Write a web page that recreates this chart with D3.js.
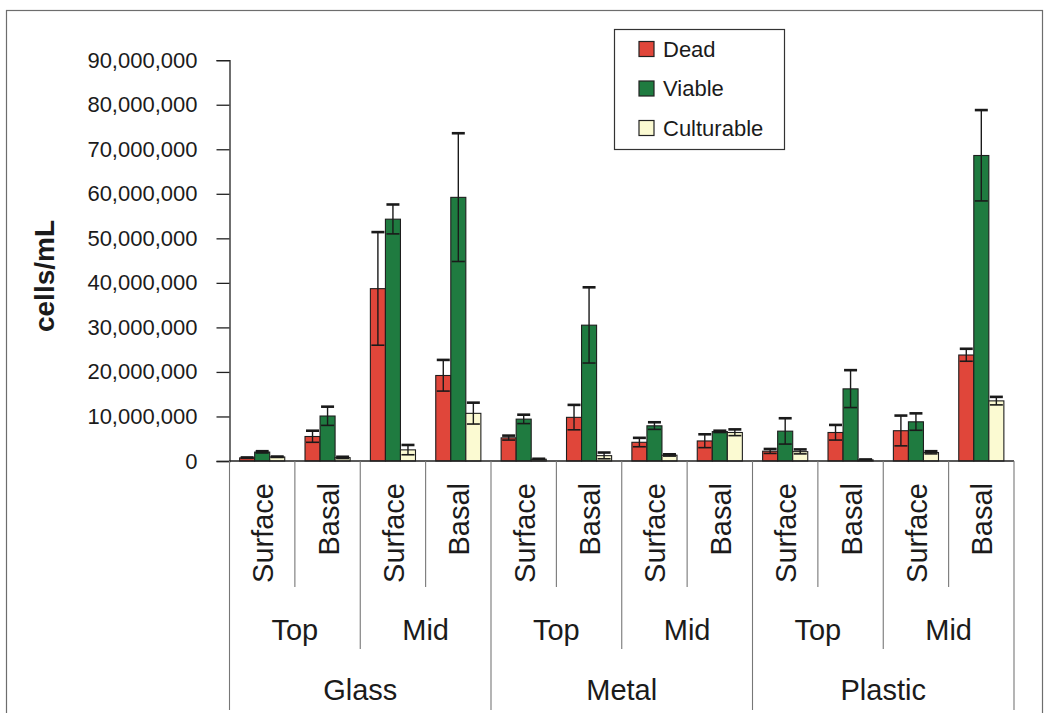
<!DOCTYPE html>
<html>
<head>
<meta charset="utf-8">
<script src="https://cdn.jsdelivr.net/npm/d3@7"></script>
<style>
  html, body { margin: 0; padding: 0; background: #fff; }
  svg { display: block; font-family: "Liberation Sans", Arial, Helvetica, sans-serif; }
</style>
</head>
<body>
<svg id="chart" width="1050" height="713"></svg>
<script>
// Hierarchical categories: material > position > layer
const materials = ["Glass", "Metal", "Plastic"];
const positions = ["Top", "Mid"];
const layers = ["Surface", "Basal"];
const seriesNames = ["Dead", "Viable", "Culturable"];
const seriesColors = ["#e0463a", "#1f7b40", "#fbfad2"];

// Mean counts (cells/mL), one per layer in order Glass-Top-Surface ... Plastic-Mid-Basal
const dead       = [0.7e6, 5.5e6, 38.7e6, 19.2e6, 5.2e6, 9.8e6, 4.2e6, 4.5e6, 2.2e6, 6.4e6, 6.8e6, 23.8e6];
const viable     = [2.0e6, 10.1e6, 54.3e6, 59.2e6, 9.4e6, 30.5e6, 7.9e6, 6.6e6, 6.7e6, 16.2e6, 8.8e6, 68.6e6];
const culturable = [0.9e6, 0.75e6, 2.5e6, 10.7e6, 0.4e6, 1.2e6, 1.3e6, 6.4e6, 2.1e6, 0.25e6, 1.9e6, 13.5e6];

// Standard deviations
const deadErr       = [0.1e6, 1.3e6, 12.7e6, 3.5e6, 0.5e6, 2.8e6, 1.0e6, 1.5e6, 0.5e6, 1.7e6, 3.4e6, 1.4e6];
const viableErr     = [0.2e6, 2.1e6, 3.3e6, 14.4e6, 1.0e6, 8.5e6, 0.8e6, 0.2e6, 2.9e6, 4.2e6, 1.9e6, 10.2e6];
const culturableErr = [0.1e6, 0.2e6, 1.1e6, 2.4e6, 0.1e6, 0.7e6, 0.2e6, 0.7e6, 0.5e6, 0.1e6, 0.3e6, 0.9e6];

const yTicks = [0, 10e6, 20e6, 30e6, 40e6, 50e6, 60e6, 70e6, 80e6, 90e6];

// Build the flat category list
const cats = [];
materials.forEach(m => positions.forEach(p => layers.forEach(l => cats.push({m, p, l}))));
const cols = [dead, viable, culturable];
const errs = [deadErr, viableErr, culturableErr];

const svg = d3.select("#chart");
const textColor = "#1b1b1b";

// Outer chart frame
svg.append("rect")
  .attr("x", 6.5).attr("y", 10.5).attr("width", 1036).attr("height", 740)
  .attr("fill", "none").attr("stroke", "#6d6d6d").attr("stroke-width", 1.2);

const plot = { left: 229.5, right: 1014, top: 60.2, bottom: 461 };

const x = d3.scaleBand().domain(d3.range(cats.length)).range([plot.left, plot.right]).padding(0);
const bw = x.bandwidth();
const xs = d3.scaleBand().domain(seriesNames).range([bw * 0.155, bw * 0.845]).padding(0);
const y = d3.scaleLinear().domain([0, 90e6]).range([plot.bottom, plot.top]);

// Y axis
const yAxis = svg.append("g")
  .attr("transform", `translate(${plot.left},0)`)
  .call(d3.axisLeft(y).tickValues(yTicks).tickFormat(d3.format(",")).tickSize(13).tickPadding(19));
yAxis.select(".domain").attr("stroke", "#222").attr("stroke-width", 1.3);
yAxis.selectAll(".tick line").attr("stroke", "#222").attr("stroke-width", 1.3);
yAxis.selectAll(".tick text")
  .attr("fill", textColor)
  .style("font-size", "22px")
  .style("font-family", "'Liberation Sans', Arial, sans-serif");

// Y axis title
svg.append("text")
  .attr("transform", "translate(44,276) rotate(-90)")
  .attr("text-anchor", "middle")
  .attr("dominant-baseline", "central")
  .attr("fill", textColor)
  .style("font-size", "28px")
  .style("font-weight", "bold")
  .text("cells/mL");

// Bars
const bars = svg.append("g");
cats.forEach((c, i) => {
  seriesNames.forEach((s, k) => {
    const v = cols[k][i];
    const bx = x(i) + xs(s);
    bars.append("rect")
      .attr("x", bx).attr("y", y(v))
      .attr("width", xs.bandwidth()).attr("height", y(0) - y(v))
      .attr("fill", seriesColors[k])
      .attr("stroke", "#1e1e1e").attr("stroke-width", 1.1);
  });
});

// Error bars
const eb = svg.append("g").attr("stroke", "#1a1a1a");
cats.forEach((c, i) => {
  seriesNames.forEach((s, k) => {
    const v = cols[k][i], e = errs[k][i];
    const cx = x(i) + xs(s) + xs.bandwidth() / 2;
    const hi = y(v + e), lo = y(Math.max(0, v - e));
    eb.append("line").attr("x1", cx).attr("x2", cx).attr("y1", hi).attr("y2", lo).attr("stroke-width", 1.4);
    eb.append("line").attr("x1", cx - 6.5).attr("x2", cx + 6.5).attr("y1", hi).attr("y2", hi).attr("stroke-width", 2.6);
    eb.append("line").attr("x1", cx - 6.5).attr("x2", cx + 6.5).attr("y1", lo).attr("y2", lo).attr("stroke-width", 1.6);
  });
});

// X axis baseline
svg.append("line")
  .attr("x1", plot.left).attr("x2", plot.right)
  .attr("y1", plot.bottom).attr("y2", plot.bottom)
  .attr("stroke", "#222").attr("stroke-width", 1.3);

// Category grid separators (three nested levels)
const level1Bottom = 587, level2Bottom = 649, level3Bottom = 710;
const sep = svg.append("g").attr("stroke", "#777").attr("stroke-width", 1.1);
d3.range(cats.length + 1).forEach(i => {
  const xx = i < cats.length ? x(i) : plot.right;
  const len = i % 4 === 0 ? level3Bottom : (i % 2 === 0 ? level2Bottom : level1Bottom);
  sep.append("line").attr("x1", xx).attr("x2", xx).attr("y1", plot.bottom).attr("y2", len);
});

// Layer labels (rotated)
const lbl = svg.append("g").attr("fill", textColor).style("font-size", "29px");
cats.forEach((c, i) => {
  const cx = x(i) + bw / 2;
  lbl.append("text")
    .attr("transform", `translate(${cx + 1},483) rotate(-90)`)
    .attr("text-anchor", "end")
    .attr("dominant-baseline", "central")
    .text(c.l);
});

// Position labels
d3.range(materials.length * positions.length).forEach(j => {
  const cx = x(j * 2) + bw;
  lbl.append("text")
    .attr("x", cx).attr("y", 640)
    .attr("text-anchor", "middle")
    .text(positions[j % 2]);
});

// Material labels
materials.forEach((m, j) => {
  const cx = x(j * 4) + bw * 2;
  lbl.append("text")
    .attr("x", cx).attr("y", 700)
    .attr("text-anchor", "middle")
    .text(m);
});

// Legend
const leg = svg.append("g").attr("transform", "translate(614,29)");
leg.append("rect")
  .attr("x", 0.5).attr("y", 0.5).attr("width", 170).attr("height", 120)
  .attr("fill", "#fff").attr("stroke", "#333").attr("stroke-width", 1.2);
seriesNames.forEach((s, k) => {
  const cy = 20 + k * 39.5;
  leg.append("rect")
    .attr("x", 25).attr("y", cy - 7.5).attr("width", 15).attr("height", 15)
    .attr("fill", seriesColors[k]).attr("stroke", "#222").attr("stroke-width", 1.2);
  leg.append("text")
    .attr("x", 49).attr("y", cy)
    .attr("dominant-baseline", "central")
    .attr("fill", textColor)
    .style("font-size", "22px")
    .text(s);
});
</script>
</body>
</html>
